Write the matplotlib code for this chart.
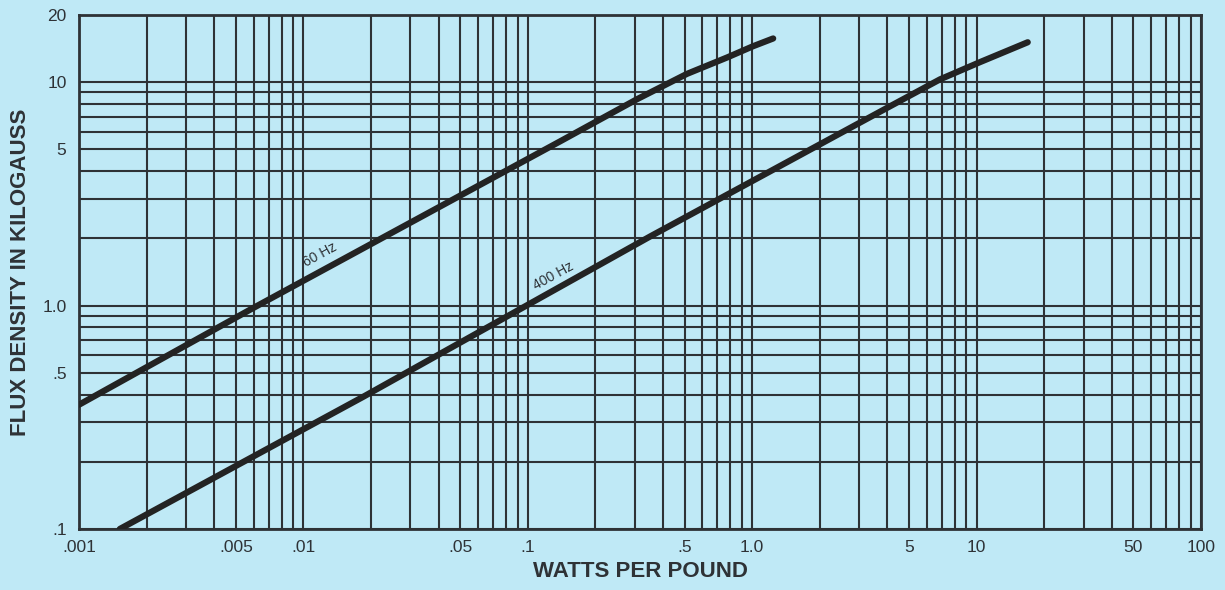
import numpy as np
import matplotlib
matplotlib.use("Agg")
import matplotlib.pyplot as plt

# curve readings (watts per pound, kilogauss)
watts_60 = [0.001, 0.0058, 0.139, 0.307, 0.512, 0.772, 1.01, 1.24]
flux_60 = [0.36, 0.96, 5.43, 8.40, 10.9, 12.9, 14.5, 15.7]

watts_400 = [0.00152, 0.0185, 0.351, 4.11, 6.87, 10.35, 16.9]
flux_400 = [0.100, 0.391, 2.04, 7.80, 10.3, 12.3, 15.1]

x_ticks = [0.001, 0.005, 0.01, 0.05, 0.1, 0.5, 1.0, 5, 10, 50, 100]
x_labels = [".001", ".005", ".01", ".05", ".1", ".5", "1.0", "5", "10", "50", "100"]
y_ticks = [0.1, 0.5, 1.0, 5, 10, 20]
y_labels = [".1", ".5", "1.0", "5", "10", "20"]

BG = "#bfe9f6"
INK = "#2e3236"
FONT = ["Liberation Sans Narrow", "Liberation Sans", "DejaVu Sans"]


def minor_lines(lo, hi):
    """
        Every 1..9 multiple inside the range, for the grid
    """
    vals = []
    for p in range(int(np.floor(np.log10(lo))), int(np.ceil(np.log10(hi))) + 1):
        for m in range(1, 10):
            v = m * 10.0 ** p
            if lo <= v <= hi:
                vals.append(v)
    return vals


fig = plt.figure(figsize=(12.25, 5.9), dpi=100)
fig.patch.set_facecolor(BG)
ax = fig.add_axes([0.0645, 0.1034, 0.9159, 0.8712])
ax.set_facecolor(BG)
ax.set_xscale("log")
ax.set_yscale("log")
ax.set_xlim(0.001, 100)
ax.set_ylim(0.1, 20)

# grid
for v in minor_lines(0.001, 100):
    ax.axvline(v, color=INK, lw=1.5, zorder=1)
for v in minor_lines(0.1, 20) + [20]:
    ax.axhline(v, color=INK, lw=1.5, zorder=1)

ax.plot(watts_60, flux_60, color="#232323", lw=4.5, solid_capstyle="round",
        solid_joinstyle="round", zorder=3)
ax.plot(watts_400, flux_400, color="#232323", lw=4.5, solid_capstyle="round",
        solid_joinstyle="round", zorder=3)

ax.text(0.01186, 1.68, "60 Hz", rotation=28.7, rotation_mode="anchor",
        ha="center", va="center", fontsize=10, color=INK, family=FONT, zorder=4)
ax.text(0.1294, 1.36, "400 Hz", rotation=28.7, rotation_mode="anchor",
        ha="center", va="center", fontsize=10, color=INK, family=FONT, zorder=4)

ax.set_xticks(x_ticks)
ax.set_xticklabels(x_labels)
ax.set_yticks(y_ticks)
ax.set_yticklabels(y_labels)
ax.minorticks_off()
ax.tick_params(axis="x", length=0, pad=8, labelsize=12.5, labelcolor=INK)
ax.tick_params(axis="y", length=0, pad=9, labelsize=12.5, labelcolor=INK)
for lab in ax.get_xticklabels() + ax.get_yticklabels():
    lab.set_family(FONT)

for sp in ax.spines.values():
    sp.set_color(INK)
    sp.set_linewidth(2)

ax.set_xlabel("WATTS PER POUND", fontsize=16, color=INK, family=FONT,
              fontweight="bold", labelpad=4)
ax.set_ylabel("FLUX DENSITY IN KILOGAUSS", fontsize=16, color=INK, family=FONT,
              fontweight="bold", labelpad=8)

fig.savefig("out.png", dpi=100, facecolor=BG)
